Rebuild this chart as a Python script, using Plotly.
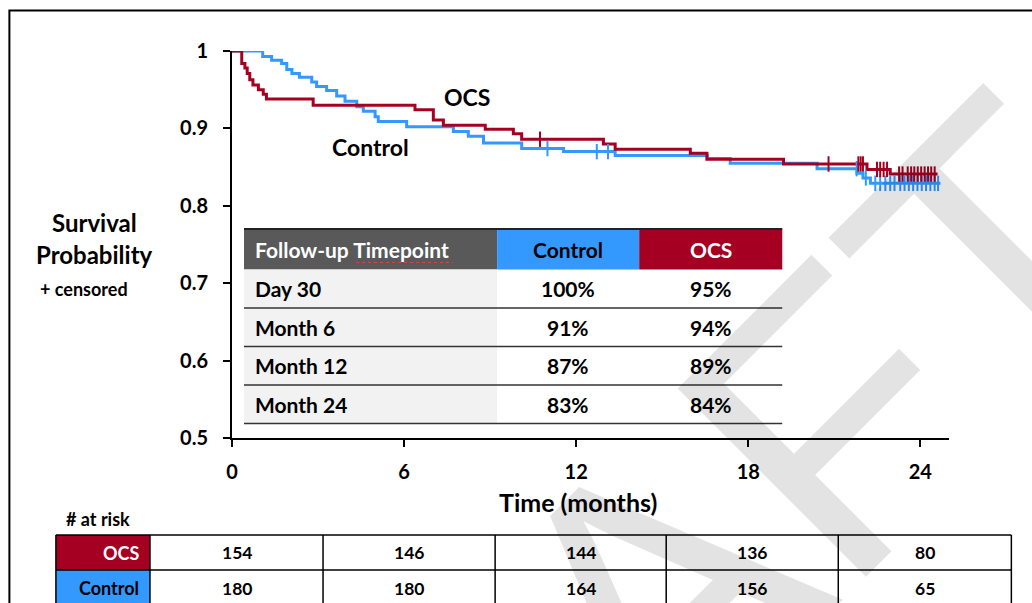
import plotly.graph_objects as go

# ---------------- data ----------------
ocs_t = [0, 0.34, 0.45, 0.53, 0.62, 0.73, 0.92, 1.09, 1.2, 2.83, 6.38, 7.02, 7.37, 8.83, 9.81, 10.1,
         12.95, 13.36, 15.98, 16.56, 19.23, 22.14, 22.95, 24.6]
ocs_s = [1.0, 0.984, 0.978, 0.971, 0.963, 0.956, 0.950, 0.944, 0.938, 0.930, 0.924, 0.911, 0.904, 0.899, 0.893, 0.886,
         0.880, 0.873, 0.868, 0.860, 0.854, 0.847, 0.841, 0.841]
ctl_t = [0, 1.07, 1.38, 1.73, 1.91, 2.09, 2.35, 2.78, 2.95, 3.30, 3.65, 3.94, 4.35, 4.58, 4.99, 5.1, 6.09, 7.72,
         8.24, 8.77, 10.1, 11.56, 13.36, 16.57, 17.37, 20.4, 21.79, 22.0, 22.26, 24.7]
ctl_s = [1.0, 0.993, 0.988, 0.984, 0.976, 0.971, 0.966, 0.960, 0.954, 0.949, 0.942, 0.935, 0.928, 0.922, 0.915, 0.909,
         0.902, 0.896, 0.890, 0.881, 0.874, 0.870, 0.865, 0.861, 0.855, 0.848, 0.842, 0.836, 0.829, 0.829]

ocs_cens_t = [10.74, 20.8, 21.84, 21.92, 22.0, 22.49, 22.6, 22.72, 22.84, 23.26, 23.38, 23.56, 23.68, 23.79, 23.91,
              24.03, 24.15, 24.27, 24.38, 24.5]
ocs_cens_s = [0.886, 0.854, 0.854, 0.854, 0.854, 0.847, 0.847, 0.847, 0.847, 0.841, 0.841, 0.841, 0.841, 0.841, 0.841,
              0.841, 0.841, 0.841, 0.841, 0.841]
ctl_cens_t = [11.0, 12.72, 13.11, 21.78, 22.1, 22.43, 22.6, 22.78, 22.95, 23.1, 23.3, 23.45, 23.6, 23.75, 23.9, 24.05,
              24.2, 24.35, 24.5, 24.62]
ctl_cens_s = [0.874, 0.870, 0.870, 0.848, 0.836, 0.829, 0.829, 0.829, 0.829, 0.829, 0.829, 0.829, 0.829, 0.829, 0.829,
              0.829, 0.829, 0.829, 0.829, 0.829]

x_ticks = [0, 6, 12, 18, 24]

tbl_header = ["Follow-up Timepoint", "Control", "OCS"]
tbl_timepoints = ["Day 30", "Month 6", "Month 12", "Month 24"]
tbl_control = ["100%", "91%", "87%", "83%"]
tbl_ocs = ["95%", "94%", "89%", "84%"]

risk_groups = ["OCS", "Control"]
risk_ocs = [154, 146, 144, 136, 80]
risk_control = [180, 180, 164, 156, 65]

# ---------------- styling ----------------
RED = "#A50021"
BLUE = "#3399FF"
FONT = "Lato"
W, H = 1032, 603
L, R, T, B = 232, 948.67, 51, 438


def px(x):
    return (x - L) / (R - L)


def py(y):
    return (B - y) / (B - T)


fig = go.Figure()
fig.add_trace(go.Scatter(x=ctl_t, y=ctl_s, mode="lines", line=dict(color=BLUE, width=3, shape="hv"),
                         cliponaxis=False, name="Control"))
fig.add_trace(go.Scatter(x=ocs_t, y=ocs_s, mode="lines", line=dict(color=RED, width=3, shape="hv"),
                         cliponaxis=False, name="OCS"))
fig.add_trace(go.Scatter(x=ctl_cens_t, y=ctl_cens_s, mode="markers", cliponaxis=False,
                         marker=dict(symbol="line-ns-open", size=11, color=BLUE, line=dict(color=BLUE, width=2))))
fig.add_trace(go.Scatter(x=ocs_cens_t, y=ocs_cens_s, mode="markers", cliponaxis=False,
                         marker=dict(symbol="line-ns-open", size=11, color=RED, line=dict(color=RED, width=2))))

shapes = []
annotations = []

# watermark
annotations.append(dict(text="DRAFT", x=px(627), y=py(626), xref="paper", yref="paper", showarrow=False,
                        textangle=-45, xanchor="center", yanchor="middle",
                        font=dict(family="Liberation Sans", size=387, color="rgba(0,0,0,0.11)")))

# frame
shapes.append(dict(type="rect", xref="paper", yref="paper", x0=px(9.5), x1=px(1045), y0=py(10.5), y1=py(620),
                   line=dict(color="black", width=2), fillcolor="rgba(0,0,0,0)", layer="above"))


def txt(s, x, y, size, color="black", xanchor="center", weight="bold"):
    annotations.append(dict(text=s, x=px(x), y=py(y), xref="paper", yref="paper", showarrow=False,
                            xanchor=xanchor, yanchor="middle",
                            font=dict(family=FONT, size=size, color=color, weight=weight)))


# inner summary table
tx = [244, 497, 639, 782]
ty = [229, 269.5, 308, 346.5, 385, 423.5]
hdr_fill = ["#595959", BLUE, RED]
hdr_col = ["white", "black", "white"]
for i in range(3):
    shapes.append(dict(type="rect", xref="paper", yref="paper", x0=px(tx[i]), x1=px(tx[i + 1]),
                       y0=py(ty[0]), y1=py(ty[1]), line=dict(width=0), fillcolor=hdr_fill[i], layer="below"))
shapes.append(dict(type="rect", xref="paper", yref="paper", x0=px(tx[0]), x1=px(tx[1]), y0=py(ty[1]),
                   y1=py(ty[5]), line=dict(width=0), fillcolor="#F2F2F2", layer="below"))
shapes.append(dict(type="line", xref="paper", yref="paper", x0=px(tx[0]), x1=px(tx[3]), y0=py(ty[0]),
                   y1=py(ty[0]), line=dict(color="#222222", width=2), layer="above"))
for yv in ty[2:]:
    shapes.append(dict(type="line", xref="paper", yref="paper", x0=px(tx[0]), x1=px(tx[3]), y0=py(yv),
                       y1=py(yv), line=dict(color="#333333", width=1.5), layer="above"))
# spell-check squiggle under "Timepoint"
shapes.append(dict(type="line", xref="paper", yref="paper", x0=px(356), x1=px(453), y0=py(262.5), y1=py(262.5),
                   line=dict(color="#E04040", width=1, dash="dot"), layer="above"))

TS = 21
txt(tbl_header[0], 253, (ty[0] + ty[1]) / 2, TS, "white", xanchor="left")
txt(tbl_header[1], (tx[1] + tx[2]) / 2, (ty[0] + ty[1]) / 2, TS, hdr_col[1])
txt(tbl_header[2], (tx[2] + tx[3]) / 2, (ty[0] + ty[1]) / 2, TS, hdr_col[2])
for k in range(4):
    yc = (ty[k + 1] + ty[k + 2]) / 2
    txt(tbl_timepoints[k], 253, yc, TS, xanchor="left")
    txt(tbl_control[k], (tx[1] + tx[2]) / 2, yc, TS)
    txt(tbl_ocs[k], (tx[2] + tx[3]) / 2, yc, TS)

# curve labels
txt("OCS", 467, 97, 23)
txt("Control", 370, 147, 23)

# axis titles
txt("Survival", 95, 222, 24)
txt("Probability", 95, 254, 24)
txt("+ censored", 84, 289, 18)
txt("Time (months)", 578, 502, 25)
txt("# at risk", 98, 519, 18)

# at-risk table
rx = [56, 150, 323, 495, 666, 838, 1011]
ry = [535, 570, 606]
lab_fill = [RED, BLUE]
lab_col = ["white", "black"]
risk_rows = [risk_ocs, risk_control]
for r in range(2):
    shapes.append(dict(type="rect", xref="paper", yref="paper", x0=px(rx[0]), x1=px(rx[1]), y0=py(ry[r]),
                       y1=py(ry[r + 1]), line=dict(width=0), fillcolor=lab_fill[r], layer="below"))
    yc = (ry[r] + ry[r + 1]) / 2
    txt(risk_groups[r], rx[1] - 9, yc, 18, lab_col[r], xanchor="right")
    for c in range(5):
        txt(str(risk_rows[r][c]), (rx[c + 1] + rx[c + 2]) / 2, yc, 17.5)
for yv in ry:
    shapes.append(dict(type="line", xref="paper", yref="paper", x0=px(rx[0]), x1=px(rx[-1]), y0=py(yv),
                       y1=py(yv), line=dict(color="black", width=1.5), layer="above"))
for xv in rx:
    shapes.append(dict(type="line", xref="paper", yref="paper", x0=px(xv), x1=px(xv), y0=py(ry[0]),
                       y1=py(ry[-1]), line=dict(color="black", width=1.5), layer="above"))

fig.update_layout(
    width=W, height=H,
    margin=dict(l=L, r=W - R, t=T, b=H - B, pad=0),
    paper_bgcolor="white", plot_bgcolor="rgba(0,0,0,0)",
    showlegend=False,
    font=dict(family=FONT, size=17, color="black"),
    shapes=shapes, annotations=annotations,
    xaxis=dict(range=[0, 25], tickvals=x_ticks, ticks="outside", ticklen=7, tickwidth=2, tickcolor="black",
               showline=True, linecolor="black", linewidth=2, showgrid=False, zeroline=False,
               tickfont=dict(family=FONT, size=20, weight="bold"), ticklabelstandoff=8),
    yaxis=dict(range=[0.5, 1.0], tick0=0.5, dtick=0.1, ticks="outside", ticklen=7, tickwidth=2, tickcolor="black",
               showline=True, linecolor="black", linewidth=2, showgrid=False, zeroline=False,
               tickfont=dict(family=FONT, size=20, weight="bold"), ticklabelstandoff=11),
)

fig.write_html("out.html", config={"displayModeBar": False},
               post_script="document.body.style.margin='0';document.body.style.padding='0';")
